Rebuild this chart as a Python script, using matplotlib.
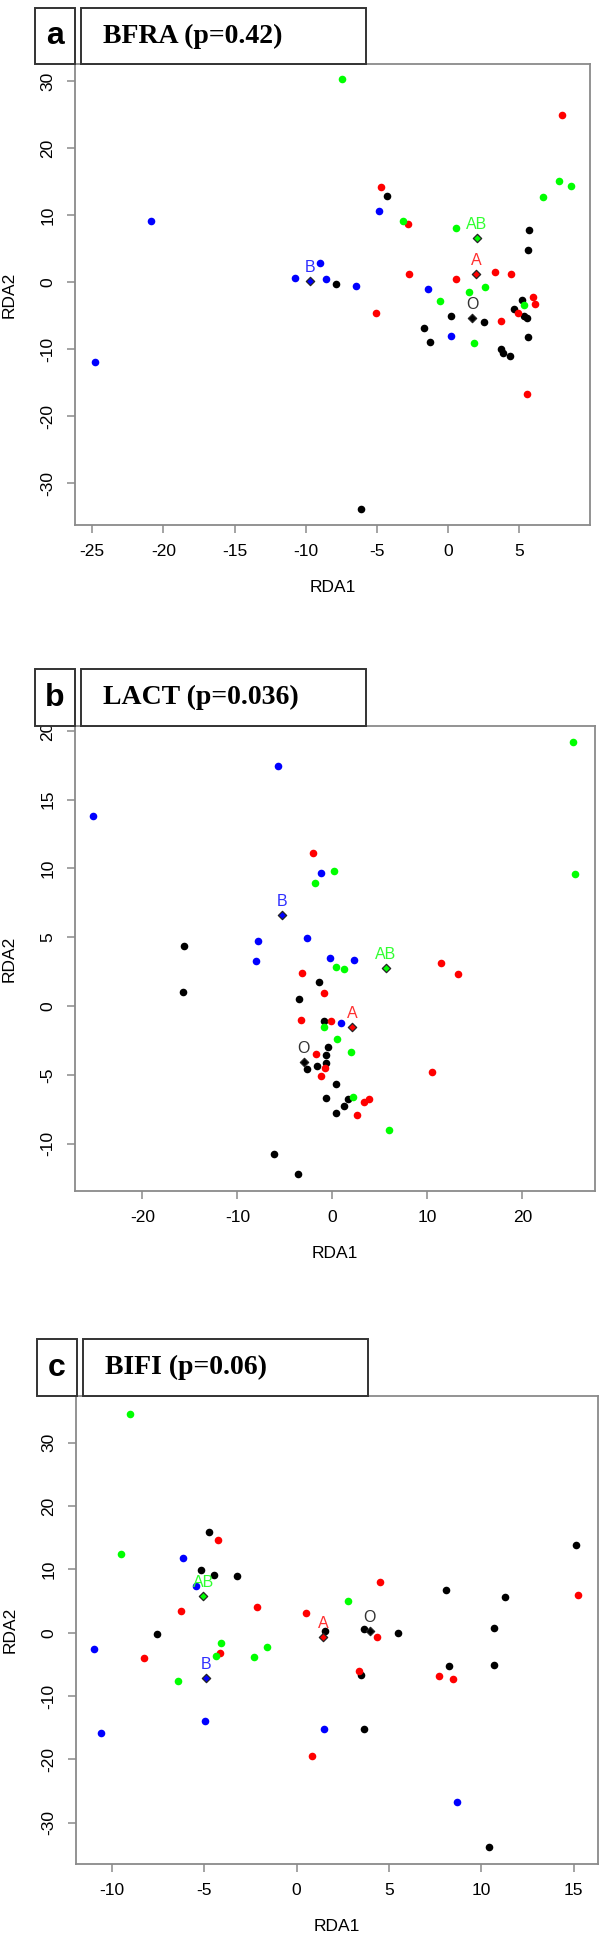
import matplotlib
matplotlib.use("Agg")
import matplotlib.pyplot as plt
from matplotlib.patches import Rectangle

plt.rcParams['font.family'] = ['Liberation Sans', 'DejaVu Sans']
plt.rcParams['axes.unicode_minus'] = False

# ---- panel a : BFRA ----
a_black_x = [-4.32, 5.68, 5.60, -7.86, 5.15, 4.65, 0.2, 2.53, 5.35, 5.5, 5.63, -1.71, -1.27, 3.72, 3.83, 4.34, -6.09]
a_black_y = [12.95, 7.85, 4.85, -0.25, -2.65, -3.9, -5.0, -5.95, -5.0, -5.3, -8.1, -6.8, -8.85, -9.9, -10.5, -11.0, -33.8]
a_red_x = [7.96, -4.69, -2.85, 3.25, 4.41, -2.74, 0.57, 5.92, 6.09, -5.06, 4.93, 3.72, 5.52]
a_red_y = [25.05, 14.3, 8.65, 1.55, 1.3, 1.3, 0.5, -2.15, -3.2, -4.5, -4.55, -5.7, -16.7]
a_green_x = [-7.45, 7.77, 8.63, 6.65, -3.18, 0.57, 2.55, 1.48, -0.55, 5.33, 1.81]
a_green_y = [30.35, 15.1, 14.45, 12.75, 9.2, 8.1, -0.7, -1.4, -2.8, -3.3, -9.0]
a_blue_x = [-20.86, -4.83, -9.0, -10.77, -8.6, -6.49, -1.39, 0.18, -24.8]
a_blue_y = [9.1, 10.6, 2.9, 0.65, 0.45, -0.55, -0.95, -8.05, -11.9]
a_cent_x = [1.69, 1.95, -9.67, 2.02]   # O, A, B, AB
a_cent_y = [-5.35, 1.2, 0.2, 6.6]

# ---- panel b : LACT ----
b_black_x = [-15.59, -15.71, -1.46, -3.52, -0.86, -0.45, -0.62, -0.69, -2.72, -1.67, 0.35, -0.69, 1.65, 1.26, 0.4, -6.12, -3.63]
b_black_y = [4.34, 1.02, 1.72, 0.53, -1.12, -2.96, -3.57, -4.13, -4.61, -4.37, -5.68, -6.67, -6.77, -7.26, -7.81, -10.75, -12.25]
b_red_x = [-2.09, 11.48, 13.25, -3.17, -0.9, -3.27, -0.13, -1.7, -0.83, 10.47, -1.22, 3.83, 3.35, 2.62]
b_red_y = [11.11, 3.1, 2.35, 2.37, 0.97, -1.0, -1.1, -3.5, -4.51, -4.83, -5.12, -6.77, -6.99, -7.91]
b_green_x = [25.38, 0.12, 25.5, -1.81, 0.40, 1.17, -0.86, 0.46, 1.92, 2.17, 6.0]
b_green_y = [19.19, 9.82, 9.6, 8.95, 2.86, 2.71, -1.56, -2.43, -3.33, -6.58, -8.98]
b_blue_x = [-5.68, -25.2, -1.21, -7.81, -2.7, -8.06, -0.28, 2.30, 0.87]
b_blue_y = [17.47, 13.8, 9.65, 4.73, 4.92, 3.27, 3.52, 3.35, -1.22]
b_cent_x = [-3.0, 2.1, -5.27, 5.6]
b_cent_y = [-4.1, -1.56, 6.6, 2.74]

# ---- panel c : BIFI ----
c_black_x = [15.14, -4.75, -5.2, -4.48, -3.22, 8.06, 11.29, -7.56, 1.54, 3.62, 5.48, 10.66, 3.47, 8.27, 10.69, 3.67, 10.42]
c_black_y = [13.9, 15.84, 9.84, 9.1, 9.0, 6.79, 5.63, -0.16, 0.31, 0.52, -0.11, 0.73, -6.74, -5.32, -5.06, -15.21, -33.8]
c_red_x = [-4.25, 4.5, 15.23, -6.28, -2.17, 0.5, 4.35, -8.28, -4.14, 3.38, 7.73, 8.46, 0.85]
c_red_y = [14.63, 8.0, 6.0, 3.41, 3.99, 3.16, -0.74, -4.06, -3.22, -6.11, -6.85, -7.27, -19.43]
c_green_x = [-9.02, -9.52, 2.79, -4.1, -4.34, -1.61, -2.33, -6.43]
c_green_y = [34.6, 12.47, 4.94, -1.64, -3.64, -2.27, -3.85, -7.64]
c_blue_x = [-6.13, -5.44, -10.94, -4.96, -10.57, 1.46, 8.67]
c_blue_y = [11.84, 7.36, -2.58, -14.0, -15.84, -15.16, -26.69]
c_cent_x = [3.95, 1.42, -4.91, -5.06]
c_cent_y = [0.3, -0.74, -7.16, 5.78]

groups = ['O', 'A', 'B', 'AB']
colors = ['black', '#ff0000', '#0000ff', '#00ff00']
label_colors = ['#333333', '#ff3030', '#3030ff', '#30ff30']

W, H = 600, 1937
fig = plt.figure(figsize=(6, 19.37), dpi=100)


def px_axes(left, top, right, bottom):
    return [left / W, 1 - bottom / H, (right - left) / W, (bottom - top) / H]


def panel(rect, pts, cx, cy, xlim, ylim, xticks, yticks, letter, title, box_y, box_x):
    ax = fig.add_axes(px_axes(*rect))
    for (xs, ys), col in zip(pts, ['black', '#ff0000', '#00ff00', '#0000ff']):
        ax.scatter(xs, ys, s=30, color=col, linewidths=0, zorder=3)
    for x, y, g, col, lc in zip(cx, cy, groups, colors, label_colors):
        ax.scatter([x], [y], marker='D', s=18, facecolor=col, edgecolor='#222222',
                   linewidths=0.9, zorder=4)
        ax.text(x, y + 2.0 * (ylim[1] - ylim[0]) / 68.8, g, color=lc, fontsize=11.5,
                ha='center', va='center', zorder=5)
    ax.set_xlim(xlim)
    ax.set_ylim(ylim)
    ax.set_xticks(xticks)
    ax.set_yticks(yticks)
    for s in ax.spines.values():
        s.set_color('#8a8a8a')
        s.set_linewidth(1.3)
    ax.tick_params(colors='#8a8a8a', labelcolor='black', length=6, width=1.1,
                   labelsize=12.5, pad=8)
    for lab in ax.get_yticklabels():
        lab.set_rotation(90)
        lab.set_va('center')
    ax.set_xlabel('RDA1', fontsize=12.5)
    ax.set_ylabel('RDA2', fontsize=12.5)
    hpx = rect[3] - rect[1]
    wpx = rect[2] - rect[0]
    ax.xaxis.set_label_coords(0.5, -55 / hpx)
    ax.yaxis.set_label_coords(-58 / wpx, 0.5)

    # label boxes above the plot
    y0, y1 = box_y
    lx0, lx1, tx0, tx1 = box_x
    for a0, a1 in [(lx0, lx1), (tx0, tx1)]:
        fig.patches.append(Rectangle((a0 / W, 1 - y1 / H), (a1 - a0) / W, (y1 - y0) / H,
                                     transform=fig.transFigure, facecolor='white',
                                     edgecolor='#333333', linewidth=1.4, zorder=10))
    fig.text((lx0 + lx1) / 2 / W, 1 - (y0 + y1) / 2 / H, letter, fontsize=23,
             fontweight='bold', ha='center', va='center', zorder=11)
    fig.text((tx0 + 22) / W, 1 - (y0 + y1) / 2 / H, title, fontsize=20, fontweight='bold',
             family=['Liberation Serif', 'DejaVu Serif'], ha='left', va='center', zorder=11)
    return ax


panel((75, 64, 590, 525),
      [(a_black_x, a_black_y), (a_red_x, a_red_y), (a_green_x, a_green_y), (a_blue_x, a_blue_y)],
      a_cent_x, a_cent_y, (-26.2, 9.95), (-36.2, 32.6),
      [-25, -20, -15, -10, -5, 0, 5], [-30, -20, -10, 0, 10, 20, 30],
      'a', 'BFRA (p=0.42)', (8, 64), (35, 75, 81, 366))

panel((75, 726, 595, 1191),
      [(b_black_x, b_black_y), (b_red_x, b_red_y), (b_green_x, b_green_y), (b_blue_x, b_blue_y)],
      b_cent_x, b_cent_y, (-27.1, 27.65), (-13.45, 20.36),
      [-20, -10, 0, 10, 20], [-10, -5, 0, 5, 10, 15, 20],
      'b', 'LACT (p=0.036)', (669, 726), (35, 75, 81, 366))

panel((76, 1396, 598, 1864),
      [(c_black_x, c_black_y), (c_red_x, c_red_y), (c_green_x, c_green_y), (c_blue_x, c_blue_y)],
      c_cent_x, c_cent_y, (-11.94, 16.31), (-36.52, 37.37),
      [-10, -5, 0, 5, 10, 15], [-30, -20, -10, 0, 10, 20, 30],
      'c', 'BIFI (p=0.06)', (1339, 1396), (37, 77, 83, 368))

fig.savefig('out.png', dpi=100)
